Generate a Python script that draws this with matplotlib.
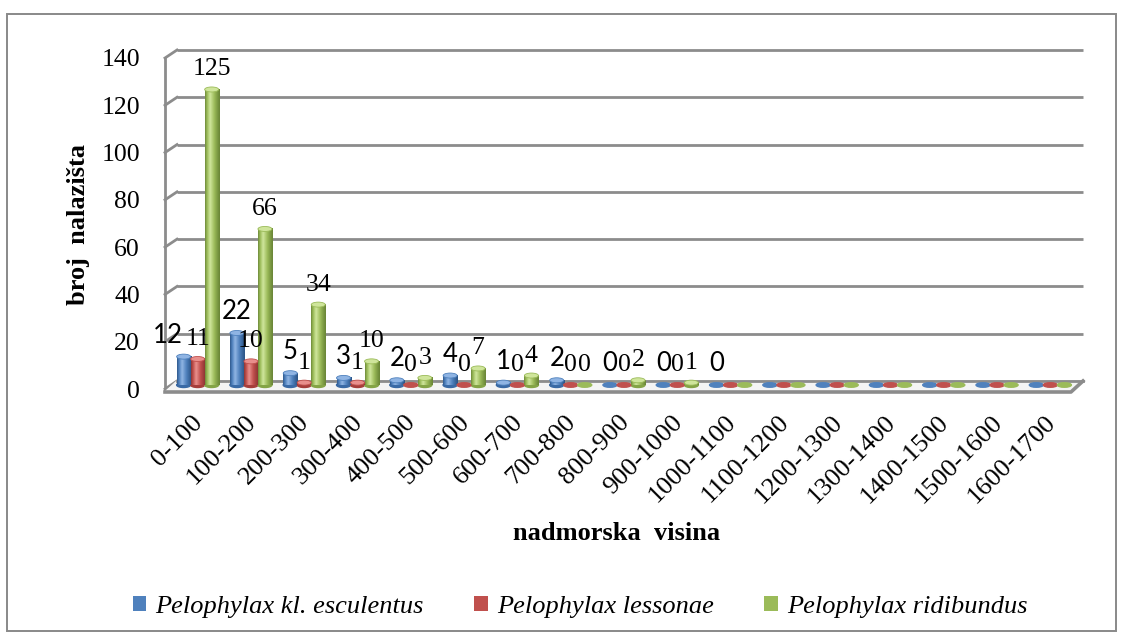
import numpy as np
import matplotlib
matplotlib.use("Agg")
import matplotlib.pyplot as plt
from matplotlib.colors import LinearSegmentedColormap
from matplotlib.patches import Ellipse, Rectangle, Patch
from matplotlib.lines import Line2D
from matplotlib.transforms import offset_copy, IdentityTransform

# ---- data -------------------------------------------------------------
categories = ["0-100", "100-200", "200-300", "300-400", "400-500", "500-600",
              "600-700", "700-800", "800-900", "900-1000", "1000-1100",
              "1100-1200", "1200-1300", "1300-1400", "1400-1500",
              "1500-1600", "1600-1700"]
esculentus = [12, 22, 5, 3, 2, 4, 1, 2, 0, 0, 0, 0, 0, 0, 0, 0, 0]
lessonae = [11, 10, 1, 1, 0, 0, 0, 0, 0, 0, 0, 0, 0, 0, 0, 0, 0]
ridibundus = [125, 66, 34, 10, 3, 7, 4, 0, 2, 1, 0, 0, 0, 0, 0, 0, 0]
series_names = ["Pelophylax kl. esculentus", "Pelophylax lessonae",
                "Pelophylax ridibundus"]
yticks = [0, 20, 40, 60, 80, 100, 120, 140]
# how many leading categories carry a value label, per series
labelled = [11, 10, 10]

series = [esculentus, lessonae, ridibundus]
base_colors = ["#4f81bd", "#c0504d", "#9bbb59"]
shades = [("#2d5587", "#8fb4e3", "#3a6aa5"),
          ("#8a3331", "#e88f8c", "#a63e3b"),
          ("#6a8637", "#cfe59b", "#84a446")]

SERIF = "Liberation Serif"
SANS = "Lato"

W, H = 1123, 637
fig = plt.figure(figsize=(W / 100, H / 100), dpi=100)
fig.patch.set_facecolor("white")

# front plane of the 3-D box
FX0, FX1, FY0, FY1 = 165, 1071, 389, 58
ax = fig.add_axes([FX0 / W, (H - FY0) / H, (FX1 - FX0) / W, (FY0 - FY1) / H])
n = len(categories)
XL = (-0.5, n - 0.5)
YL = (0, 140)
ax.set_facecolor("none")
for s in ax.spines.values():
    s.set_visible(False)

DX, DY = 12, 8  # depth of the box in pixels
back = offset_copy(ax.transData, fig=fig, x=DX, y=DY, units="dots")
mid = offset_copy(ax.transData, fig=fig, x=DX / 2, y=DY / 2, units="dots")
ident = IdentityTransform()

ax.set_xlim(*XL)
ax.set_ylim(*YL)

grid_c = "#8c8c8c"
# back wall gridlines and their diagonal joins to the left edge
for yv in yticks:
    ax.plot(XL, [yv, yv], transform=back, color=grid_c, lw=2.0,
            solid_capstyle="butt", clip_on=False, zorder=1)
    p0 = ax.transData.transform((XL[0], yv))
    ax.add_line(Line2D([p0[0], p0[0] + DX], [p0[1], p0[1] + DY],
                       transform=ident, color=grid_c, lw=2.0, clip_on=False,
                       zorder=1))
# left edge
ax.plot([XL[0], XL[0]], YL, color=grid_c, lw=2.0, clip_on=False, zorder=1)

# floor slab
fl = ax.transData.transform((XL[0], 0))
fr = ax.transData.transform((XL[1], 0))
floor_x = [fl[0], fr[0], fr[0] + DX, fl[0] + DX]
floor_y = [fl[1] - 3, fr[1] - 3, fr[1] + DY, fl[1] + DY]
ax.fill(floor_x, floor_y, transform=ident, color="#f4f4f4", zorder=1.5,
        clip_on=False)
ax.add_line(Line2D([fl[0], fr[0], fr[0] + DX], [fl[1] - 3, fr[1] - 3, fr[1] + DY],
                   transform=ident, color=grid_c, lw=2.6, clip_on=False, zorder=1.6))
ax.add_line(Line2D([fl[0] + DX, fr[0] + DX], [fl[1] + DY, fr[1] + DY],
                   transform=ident, color=grid_c, lw=2.0, clip_on=False, zorder=1.6))

# cylinders
bw = 0.263
px_per_unit = (FY0 - FY1) / (YL[1] - YL[0])
cap_h = 5.0 / px_per_unit
grad = np.concatenate([np.linspace(0, 1, 35) ** 0.8,
                       np.linspace(1, 0, 65) ** 1.2])[None, :]
for i, (vals, (dark, light, edge)) in enumerate(zip(series, shades)):
    cmap = LinearSegmentedColormap.from_list(f"cyl{i}", [dark, base_colors[i], light])
    for c, v in enumerate(vals):
        xc = c + (i - 1) * bw
        if v > 0:
            ax.add_patch(Ellipse((xc, 0), bw, cap_h, transform=mid,
                                 color=edge, zorder=2.9, clip_on=False))
            ax.imshow(grad, cmap=cmap, extent=(xc - bw / 2, xc + bw / 2, 0, v),
                      transform=mid, aspect="auto", interpolation="bilinear",
                      zorder=3, clip_on=False)
            ax.add_patch(Ellipse((xc, v), bw, cap_h, transform=mid,
                                 color=light, ec=base_colors[i], lw=0.6,
                                 zorder=3.1, clip_on=False))
        else:
            ax.add_patch(Ellipse((xc, 0), bw, cap_h * 0.9, transform=mid,
                                 color=base_colors[i], zorder=3, clip_on=False))

ax.set_xlim(*XL)
ax.set_ylim(*YL)

# value labels
nudge = {(0, 0): -16}
for i, vals in enumerate(series):
    fam = SANS if i == 0 else SERIF
    for c in range(labelled[i]):
        xc = c + (i - 1) * bw
        ax.annotate(str(vals[c]), xy=(xc, vals[c]), xycoords=mid,
                    xytext=(nudge.get((i, c), 0), 14), textcoords="offset pixels",
                    ha="center", va="baseline", fontsize=18.5, family=fam,
                    color="black", zorder=5, annotation_clip=False)

# axes ticks
ax.set_yticks(yticks)
ax.set_yticklabels([str(t) for t in yticks], fontsize=18.5, family=SERIF)
ax.tick_params(axis="y", length=0, pad=18)
ax.set_xticks(range(n))
ax.set_xticklabels(categories, rotation=45, ha="right", va="top",
                   rotation_mode="anchor", fontsize=19, family=SERIF)
ax.tick_params(axis="x", length=0, pad=16)

# axis titles
fig.text(78 / W, 1 - 224 / H, "broj  nalazišta", rotation=90, ha="center",
         va="center", fontsize=19, fontweight="bold", family=SERIF)
fig.text(617 / W, 1 - 534 / H, "nadmorska  visina", ha="center", va="center",
         fontsize=19, fontweight="bold", family=SERIF)

# legend
handles = [Patch(facecolor=c, edgecolor="none") for c in base_colors]
fig.legend(handles, series_names, loc="center", bbox_to_anchor=(580 / W, 1 - 607 / H),
           ncol=3, frameon=False, handlelength=0.52, handleheight=0.52,
           handletextpad=0.35, columnspacing=1.9,
           prop={"family": SERIF, "style": "italic", "size": 19})

# chart border
fig.add_artist(Rectangle((7 / W, (H - 631) / H), (1116 - 7) / W, (631 - 14) / H,
                         transform=fig.transFigure, fill=False, ec="#898989", lw=1.4))

fig.savefig("out.png", dpi=100)
